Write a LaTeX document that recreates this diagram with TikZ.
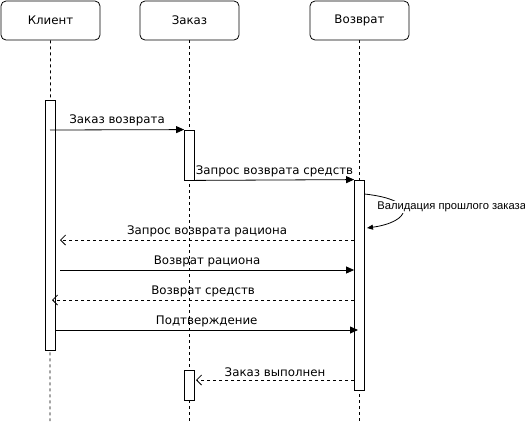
\documentclass[tikz,border=0pt]{standalone}
\usepackage{fontspec}
\setmainfont{DejaVu Sans}
\newfontfamily\notefont{Liberation Sans}
\usetikzlibrary{positioning}
\usetikzlibrary{arrows.meta}

\begin{document}
\begin{tikzpicture}[x=1pt,y=-1pt,line width=0.8pt,font=\fontsize{11.8}{13}\selectfont,
	head/.style={draw,rounded corners=5pt,minimum width=99pt,minimum height=39pt,inner sep=0pt},
	bar/.style={draw,fill=white,minimum width=10pt,inner sep=0pt},
	life/.style={dash pattern=on 3pt off 3pt,line width=0.7pt},
	call/.style={-{Triangle[length=8pt,width=7pt]}},
	back/.style={dash pattern=on 3pt off 3pt,-{Straight Barb[length=5pt,width=10pt]}},
	lbl/.style={above,inner sep=1pt,yshift=2pt}]
		\useasboundingbox (0,0) rectangle (525,421);
		% heads and lifelines
		\node (h1) [head] at (50.5,20.5) {Клиент};
		\node (h2) [head] at (189.5,20.5) {Заказ};
		\node (h3) [head] at (359.5,20.5) {Возврат};
		\coordinate (e1) at (50,421);
		\coordinate (e2) at (189.5,421);
		\coordinate (e3) at (359.5,421);
		\draw[life] (h1) -- (e1);
		\draw[life] (h2) -- (e2);
		\draw[life] (h3) -- (e3);
		% activation bars
		\node (b1) [bar,minimum height=250pt] at (50,225) {};
		\node (b2) [bar,minimum height=50pt] at (189.5,155) {};
		\node (b3) [bar,minimum height=210pt] at (359.5,285) {};
		\node (b4) [bar,minimum height=30pt] at (189.5,385) {};
		% messages
		\coordinate (c1) at (50,130);
		\coordinate (c3) at (60,240);
		\coordinate (c4) at (60,270);
		\coordinate (c5) at (52,300);
		\coordinate (c6) at (358,330);
		\coordinate (c7) at (196,380);
		\draw[call] (c1) -- (b2.north west) node (l1) [lbl,midway] {Заказ возврата};
		\draw[call] (b2.south east) -- (b3.north west) node (l2) [lbl,midway] {Запрос возврата средств};
		\draw[back] (b3.west |- c3) -- (c3) node (l3) [lbl,midway] {Запрос возврата рациона};
		\draw[call] (c4) -- (b3.west |- c4) node (l4) [lbl,midway] {Возврат рациона};
		\draw[back] (b3.west |- c5) -- (c5) node (l5) [lbl,midway] {Возврат средств};
		\draw[call] (b1.east |- c6) -- (c6) node (l6) [lbl,midway] {Подтверждение};
		\draw[back] (b3.west |- c7) -- (c7) node (l7) [lbl,midway] {Заказ выполнен};
		% self check note
		\coordinate (s1) at (364.5,194);
		\coordinate (s2) at (367,228);
		\draw[-{Triangle[length=6pt,width=5pt]}] (s1) .. controls (420,200) and (410,222) .. (s2);
		\node (v) [font=\notefont\fontsize{11.2}{13}\selectfont,fill=white,inner sep=1pt,anchor=west] at (376,207) {Валидация прошлого заказа};
\end{tikzpicture}
\end{document}
